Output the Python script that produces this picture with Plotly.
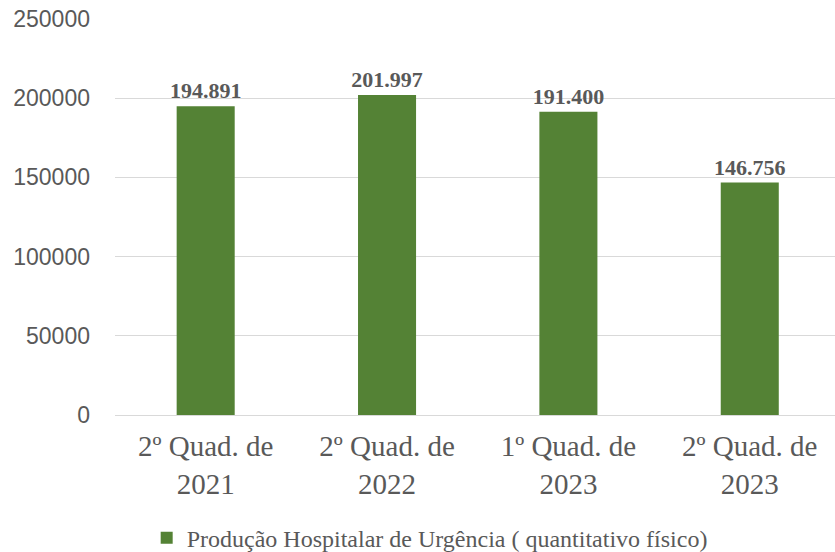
import plotly.graph_objects as go

categories = ["2º Quad. de<br>2021", "2º Quad. de<br>2022", "1º Quad. de<br>2023", "2º Quad. de<br>2023"]
values = [194891, 201997, 191400, 146756]
labels = ["194.891", "201.997", "191.400", "146.756"]
series_name = "Produção Hospitalar de Urgência ( quantitativo físico)"

fig = go.Figure()
fig.add_trace(go.Bar(
    x=categories, y=values, name=series_name,
    marker=dict(color="#548235", line=dict(width=0)),
    width=0.32,
    text=labels, textposition="outside", cliponaxis=False, constraintext="none",
    textfont=dict(family="Liberation Serif", size=22, color="#595959", weight="bold"),
))
fig.update_layout(
    width=835, height=552,
    margin=dict(l=115, r=0, t=19, b=137, autoexpand=False),
    paper_bgcolor="white", plot_bgcolor="white",
    showlegend=True,
    legend=dict(orientation="h", x=0.044, xanchor="left", xref="paper",
                y=0.025, yanchor="middle", yref="container",
                font=dict(family="Liberation Serif", size=24, color="#595959")),
    xaxis=dict(range=[-0.5, 3.47], showgrid=False, showline=True, linecolor="#d9d9d9", linewidth=1,
               automargin=False, ticklabelstandoff=5,
               tickfont=dict(family="Liberation Serif", size=29, color="#595959"), ticks=""),
    yaxis=dict(range=[0, 250000], dtick=50000, tickformat="d", showgrid=True, gridcolor="#d9d9d9", gridwidth=1,
               automargin=False,
               zeroline=False, showline=False, ticks="", ticklabelstandoff=24,
               tickfont=dict(family="Liberation Sans", size=23, color="#595959")),
)
fig.write_html("out.html", config={"displayModeBar": False},
               post_script="document.body.style.margin='0px';document.body.style.padding='0px';")
